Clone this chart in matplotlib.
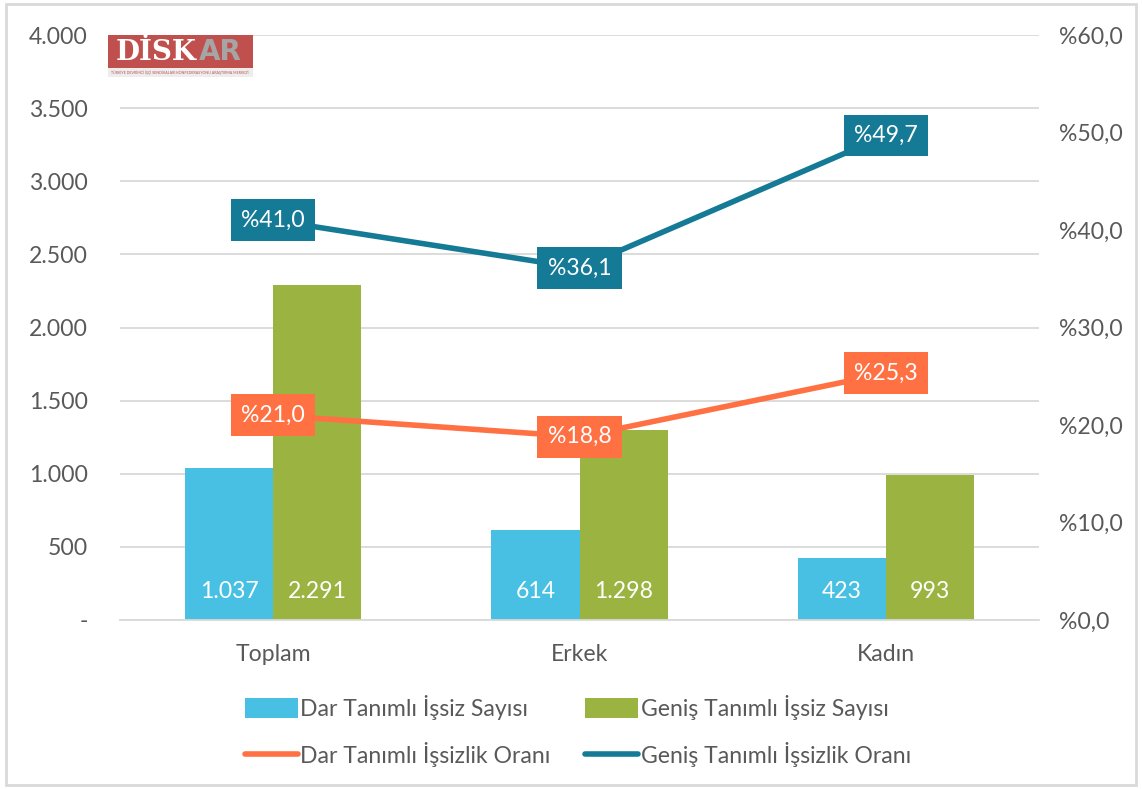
import matplotlib
matplotlib.use("Agg")
import matplotlib.pyplot as plt
from matplotlib.patches import Rectangle, Patch
from matplotlib.lines import Line2D
from matplotlib.ticker import FuncFormatter, MultipleLocator
import numpy as np

categories = ["Toplam", "Erkek", "Kadın"]
dar_sayi = [1037, 614, 423]
genis_sayi = [2291, 1298, 993]
dar_oran = [21.0, 18.8, 25.3]
genis_oran = [41.0, 36.1, 49.7]
series_names = ["Dar Tanımlı İşsiz Sayısı", "Geniş Tanımlı İşsiz Sayısı",
                "Dar Tanımlı İşsizlik Oranı", "Geniş Tanımlı İşsizlik Oranı"]

C_BLUE = "#48C0E3"
C_GREEN = "#9BB441"
C_ORANGE = "#FF7043"
C_TEAL = "#157A96"
C_TEXT = "#595959"
C_GRID = "#D9D9D9"
FS = 16.6

plt.rcParams['font.family'] = ['Lato', 'DejaVu Sans']

fig = plt.figure(figsize=(11.42, 7.89), dpi=100)
ax = fig.add_axes([0.105, 0.2142, 0.805, 0.7414])
ax2 = ax.twinx()

x = np.arange(len(categories))
w = 0.288
b1 = ax.bar(x - w/2, dar_sayi, width=w, color=C_BLUE, zorder=2)
b2 = ax.bar(x + w/2, genis_sayi, width=w, color=C_GREEN, zorder=2)

def fmt_thousands(v):
    return f"{int(round(v)):,}".replace(",", ".")

for rects, vals in ((b1, dar_sayi), (b2, genis_sayi)):
    for r, v in zip(rects, vals):
        ax.text(r.get_x() + r.get_width()/2, 195, fmt_thousands(v), ha="center", va="center",
                color="white", fontsize=FS, zorder=3)

ax.set_xlim(-0.5, 2.5)
ax.set_ylim(0, 4000)
ax.yaxis.set_major_locator(MultipleLocator(500))
ax.yaxis.set_major_formatter(FuncFormatter(lambda v, p: "-" if v == 0 else fmt_thousands(v)))
ax.grid(axis="y", color=C_GRID, linewidth=1.3, zorder=0)
ax.set_axisbelow(True)
ax.set_xticks(x)
ax.set_xticklabels(categories)
for a in (ax, ax2):
    for s in a.spines.values():
        s.set_visible(False)
    a.tick_params(length=0, labelsize=FS, labelcolor=C_TEXT)
ax.spines["bottom"].set_visible(True)
ax.spines["bottom"].set_color(C_GRID)
ax.spines["bottom"].set_linewidth(1.3)
ax.tick_params(axis="y", pad=23)
ax.tick_params(axis="x", pad=17)
ax2.tick_params(axis="y", pad=14)

ax2.set_ylim(0, 60)
ax2.yaxis.set_major_locator(MultipleLocator(10))
ax2.yaxis.set_major_formatter(FuncFormatter(lambda v, p: "%" + f"{v:.1f}".replace(".", ",")))

ax2.plot(x, dar_oran, color=C_ORANGE, linewidth=4, solid_capstyle="round", zorder=3)
ax2.plot(x, genis_oran, color=C_TEAL, linewidth=4, solid_capstyle="round", zorder=3)
for vals, col in ((dar_oran, C_ORANGE), (genis_oran, C_TEAL)):
    for xi, v in zip(x, vals):
        ax2.text(xi, v, "%" + f"{v:.1f}".replace(".", ","), ha="center", va="center",
                 color="white", fontsize=FS, zorder=5,
                 bbox=dict(boxstyle="square,pad=0.45", facecolor=col, edgecolor="none"))

handles = [Patch(facecolor=C_BLUE), Line2D([0], [0], color=C_ORANGE, lw=4, solid_capstyle="round"),
           Patch(facecolor=C_GREEN), Line2D([0], [0], color=C_TEAL, lw=4, solid_capstyle="round")]
labels = [series_names[0], series_names[2], series_names[1], series_names[3]]
leg = fig.legend(handles, labels, loc="center", bbox_to_anchor=(0.506, 0.0735), ncol=2,
                 frameon=False, fontsize=FS, labelcolor=C_TEXT, handlelength=2.3,
                 handleheight=1.0, handletextpad=0.1, columnspacing=1.5, labelspacing=0.95)

# Logo
fig.patches.append(Rectangle((108/1142, 1-68/789), 145/1142, 33/789, transform=fig.transFigure,
                             facecolor="#C0504D", edgecolor="none", zorder=5))
fig.patches.append(Rectangle((108/1142, 1-77/789), 145/1142, 9/789, transform=fig.transFigure,
                             facecolor="#EDEDED", edgecolor="none", zorder=5))
fig.text(116/1142, 1-52/789, "DİSK", color="white", fontsize=20, fontweight="bold",
         family=["DejaVu Serif"], va="center", ha="left", zorder=6)
fig.text(199/1142, 1-52/789, "AR", color="#A5A5A5", fontsize=20, fontweight="bold",
         family=["DejaVu Sans"], va="center", ha="left", zorder=6)
fig.text(180/1142, 1-72.5/789, "TÜRKİYE DEVRİMCİ İŞÇİ SENDİKALARI KONFEDERASYONU ARAŞTIRMA MERKEZİ",
         color="#C0504D", fontsize=2.6, va="center", ha="center", zorder=6)

# Figure border
fig.patches.append(Rectangle((6/1142, 4/789), 1130/1142, 781/789, transform=fig.transFigure,
                             facecolor="none", edgecolor=C_GRID, linewidth=2, zorder=0))

fig.savefig("out.png", dpi=100)
